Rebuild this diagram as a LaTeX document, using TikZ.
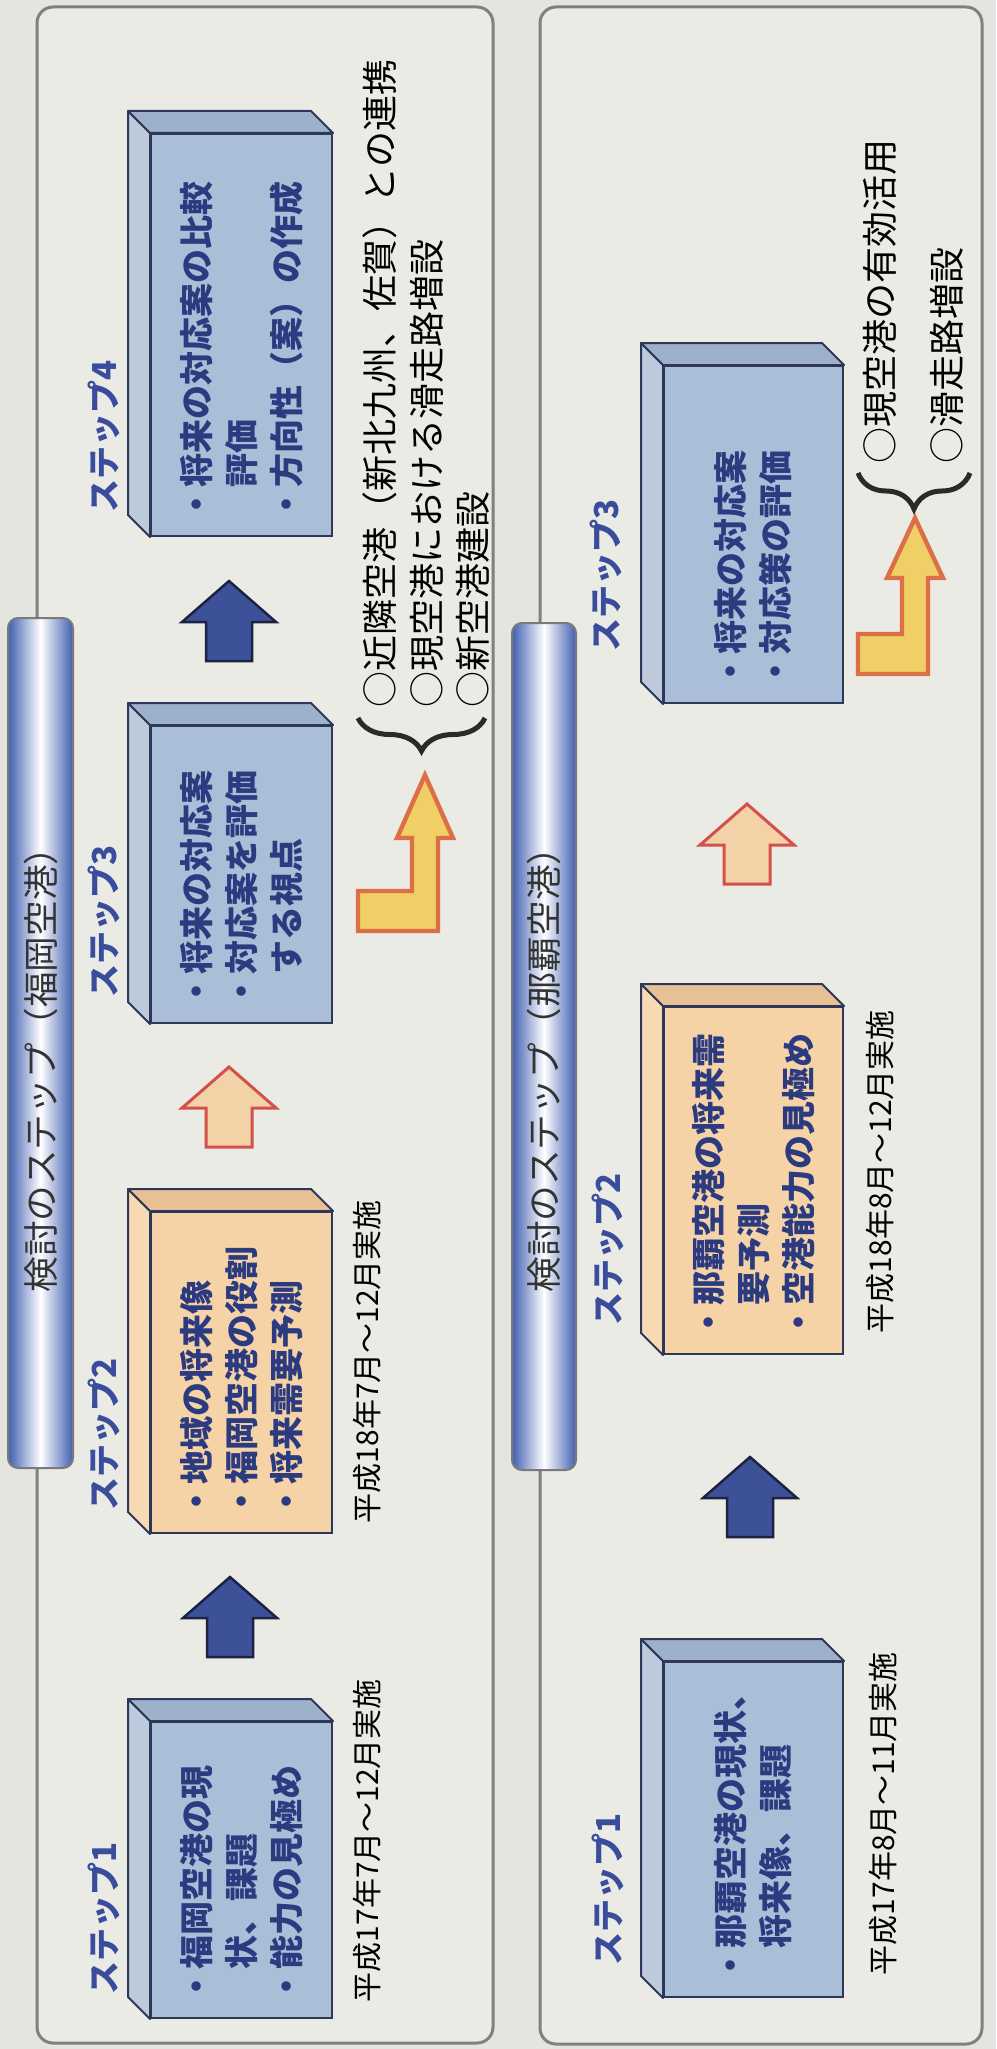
\documentclass[tikz,border=0pt]{standalone}
\usepackage{fontspec}
\setmainfont{Noto Sans CJK JP}
\usetikzlibrary{calc,decorations.pathreplacing}

\definecolor{bgcol}{HTML}{E4E5DF}
\definecolor{panelfill}{HTML}{EBEBE6}
\definecolor{panelline}{HTML}{808080}
\definecolor{barblue}{HTML}{3F5FB0}
\definecolor{barline}{HTML}{7A7A7A}
\definecolor{blfront}{HTML}{ABBED7}
\definecolor{blleft}{HTML}{BCCADC}
\definecolor{bltop}{HTML}{9EB1CB}
\definecolor{orfront}{HTML}{F5D3A7}
\definecolor{orleft}{HTML}{F7DAB3}
\definecolor{ortop}{HTML}{E8C095}
\definecolor{boxline}{HTML}{2E3659}
\definecolor{boxtext}{HTML}{2C3A80}
\definecolor{labelblue}{HTML}{3A4C9C}
\definecolor{arrowblue}{HTML}{3D5198}
\definecolor{arrowblueline}{HTML}{1C2342}
\definecolor{arrowpeach}{HTML}{F4D2A8}
\definecolor{arrowred}{HTML}{D4504A}
\definecolor{arrowyellow}{HTML}{F0CF66}
\definecolor{arrowyellowline}{HTML}{DC6E48}
\definecolor{bracecol}{HTML}{2A2A2A}

\tikzset{every picture/.style={line width=0.75pt}}
\tikzset{
  panel/.style={draw=panelline, fill=panelfill, line width=1.5pt, rounded corners=8pt},
  titlebar/.style={draw=barline, line width=1pt, rounded corners=5pt, left color=barblue, right color=barblue, middle color=white},
  titletext/.style={rotate=90, inner sep=0pt, text=black!80, font=\fontsize{17.8}{20}\selectfont},
  stepbox/.style={draw=boxline, line width=1pt, rotate=90, inner xsep=7.5pt, inner ysep=0pt, align=left, text=boxtext, font=\fontsize{17}{22.5}\selectfont\bfseries},
  bluebox/.style={stepbox, fill=blfront},
  orangebox/.style={stepbox, fill=orfront},
  blueleft/.style={draw=boxline, fill=blleft, line width=1pt, line join=round},
  bluetop/.style={draw=boxline, fill=bltop, line width=1pt, line join=round},
  orangeleft/.style={draw=boxline, fill=orleft, line width=1pt, line join=round},
  orangetop/.style={draw=boxline, fill=ortop, line width=1pt, line join=round},
  steplabel/.style={rotate=90, anchor=west, inner sep=0pt, text=labelblue, font=\fontsize{16.5}{20}\selectfont\bfseries},
  datelabel/.style={rotate=90, anchor=west, inner sep=0pt, font=\fontsize{15}{18}\selectfont},
  optiontext/.style={rotate=90, anchor=west, inner sep=0pt, align=left, font=\fontsize{18}{23.25}\selectfont},
  bluearrow/.style={draw=arrowblueline, fill=arrowblue, line width=1.25pt, line join=miter},
  peacharrow/.style={draw=arrowred, fill=arrowpeach, line width=1.5pt, line join=miter},
  yellowarrow/.style={draw=arrowyellowline, fill=arrowyellow, line width=2.2pt, line join=miter},
  curly/.style={draw=bracecol, line width=2.5pt, decorate, decoration={brace, amplitude=#1}}
}

\begin{document}
\begin{tikzpicture}[x=0.5pt,y=0.5pt,yscale=-1,xscale=1]
\useasboundingbox (0,0) rectangle (996,2049);

%Shape: Rectangle [background]
\fill[bgcol] (0,0) rectangle (996,2049);
%Shape: Rounded Rect [Fukuoka panel]
\draw[panel] (37,7) rectangle (493,2043);
%Shape: Rounded Rect [Naha panel]
\draw[panel] (540,7) rectangle (982,2044);
%Shape: Bar [Fukuoka title]
\draw[titlebar] (8,618) rectangle (73,1468);
%Shape: Bar [Naha title]
\draw[titlebar] (512,623) rectangle (576,1470);

% Text Node
\node[titletext] (fktitle) at (41,1061) {検討のステップ（福岡空港）};
% Text Node
\node[titletext] (nhtitle) at (544,1061) {検討のステップ（那覇空港）};

%Shape: Box [Fukuoka step 1]
\node[bluebox, minimum width=148pt, minimum height=90.5pt, text width=133pt] (fk1) at (241.5,1870) {・福岡空港の現\\　状、課題\\・能力の見極め};
\filldraw[blueleft] (fk1.north west) -- ($(fk1.north west)+(-22,-22)$) -- ($(fk1.north east)+(-22,-22)$) -- (fk1.north east) -- cycle;
\filldraw[bluetop] (fk1.north east) -- ($(fk1.north east)+(-22,-22)$) -- ($(fk1.south east)+(-22,-22)$) -- (fk1.south east) -- cycle;
%Shape: Box [Fukuoka step 2]
\node[orangebox, minimum width=160.5pt, minimum height=90.5pt, text width=145.5pt] (fk2) at (241.5,1372.5) {・地域の将来像\\・福岡空港の役割\\・将来需要予測};
\filldraw[orangeleft] (fk2.north west) -- ($(fk2.north west)+(-22,-22)$) -- ($(fk2.north east)+(-22,-22)$) -- (fk2.north east) -- cycle;
\filldraw[orangetop] (fk2.north east) -- ($(fk2.north east)+(-22,-22)$) -- ($(fk2.south east)+(-22,-22)$) -- (fk2.south east) -- cycle;
%Shape: Box [Fukuoka step 3]
\node[bluebox, minimum width=148.5pt, minimum height=90.5pt, text width=133.5pt] (fk3) at (241.5,874.5) {・将来の対応案\\・対応案を評価\\　する視点};
\filldraw[blueleft] (fk3.north west) -- ($(fk3.north west)+(-22,-22)$) -- ($(fk3.north east)+(-22,-22)$) -- (fk3.north east) -- cycle;
\filldraw[bluetop] (fk3.north east) -- ($(fk3.north east)+(-22,-22)$) -- ($(fk3.south east)+(-22,-22)$) -- (fk3.south east) -- cycle;
%Shape: Box [Fukuoka step 4]
\node[bluebox, minimum width=201pt, minimum height=90.5pt, text width=186pt] (fk4) at (241.5,335) {・将来の対応案の比較\\　評価\\・方向性（案）の作成};
\filldraw[blueleft] (fk4.north west) -- ($(fk4.north west)+(-22,-22)$) -- ($(fk4.north east)+(-22,-22)$) -- (fk4.north east) -- cycle;
\filldraw[bluetop] (fk4.north east) -- ($(fk4.north east)+(-22,-22)$) -- ($(fk4.south east)+(-22,-22)$) -- (fk4.south east) -- cycle;

%Shape: Box [Naha step 1]
\node[bluebox, minimum width=167.5pt, minimum height=89.5pt, text width=152.5pt] (nh1) at (753.5,1829.5) {・那覇空港の現状、\\　将来像、課題};
\filldraw[blueleft] (nh1.north west) -- ($(nh1.north west)+(-22,-22)$) -- ($(nh1.north east)+(-22,-22)$) -- (nh1.north east) -- cycle;
\filldraw[bluetop] (nh1.north east) -- ($(nh1.north east)+(-22,-22)$) -- ($(nh1.south east)+(-22,-22)$) -- (nh1.south east) -- cycle;
%Shape: Box [Naha step 2]
\node[orangebox, minimum width=173.5pt, minimum height=89.5pt, text width=158.5pt] (nh2) at (753.5,1180.5) {・那覇空港の将来需\\　要予測\\・空港能力の見極め};
\filldraw[orangeleft] (nh2.north west) -- ($(nh2.north west)+(-22,-22)$) -- ($(nh2.north east)+(-22,-22)$) -- (nh2.north east) -- cycle;
\filldraw[orangetop] (nh2.north east) -- ($(nh2.north east)+(-22,-22)$) -- ($(nh2.south east)+(-22,-22)$) -- (nh2.south east) -- cycle;
%Shape: Box [Naha step 3]
\node[bluebox, minimum width=168.5pt, minimum height=89.5pt, text width=153.5pt] (nh3) at (753.5,534.5) {・将来の対応案\\・対応策の評価};
\filldraw[blueleft] (nh3.north west) -- ($(nh3.north west)+(-22,-22)$) -- ($(nh3.north east)+(-22,-22)$) -- (nh3.north east) -- cycle;
\filldraw[bluetop] (nh3.north east) -- ($(nh3.north east)+(-22,-22)$) -- ($(nh3.south east)+(-22,-22)$) -- (nh3.south east) -- cycle;

% Text Node
\node[steplabel] (fk1lbl) at (104,1995) {ステップ1};
% Text Node
\node[steplabel] (fk2lbl) at (104,1511) {ステップ2};
% Text Node
\node[steplabel] (fk3lbl) at (104,998) {ステップ3};
% Text Node
\node[steplabel] (fk4lbl) at (104,513) {ステップ4};
% Text Node
\node[steplabel] (nh1lbl) at (608,1966) {ステップ1};
% Text Node
\node[steplabel] (nh2lbl) at (608,1326) {ステップ2};
% Text Node
\node[steplabel] (nh3lbl) at (606,652) {ステップ3};

% Text Node
\node[datelabel] (fk1date) at (367,2003) {平成17年7月～12月実施};
% Text Node
\node[datelabel] (fk2date) at (367,1524) {平成18年7月～12月実施};
% Text Node
\node[datelabel] (nh1date) at (883,1976) {平成17年8月～11月実施};
% Text Node
\node[datelabel] (nh2date) at (880,1334) {平成18年8月～12月実施};

%Shape: Up Arrow [Fukuoka 1 to 2]
\draw[bluearrow] (207,1657) -- (207,1618) -- (183,1618) -- (230,1577) -- (277,1618) -- (253,1618) -- (253,1657) -- cycle;
%Shape: Up Arrow [Fukuoka 2 to 3]
\draw[peacharrow] (206,1147) -- (206,1108) -- (182,1108) -- (229,1067) -- (276,1108) -- (252,1108) -- (252,1147) -- cycle;
%Shape: Up Arrow [Fukuoka 3 to 4]
\draw[bluearrow] (206,661) -- (206,622) -- (182,622) -- (229,581) -- (276,622) -- (252,622) -- (252,661) -- cycle;
%Shape: Up Arrow [Naha 1 to 2]
\draw[bluearrow] (727,1537) -- (727,1498) -- (703,1498) -- (750,1457) -- (797,1498) -- (773,1498) -- (773,1537) -- cycle;
%Shape: Up Arrow [Naha 2 to 3]
\draw[peacharrow] (724,884) -- (724,845) -- (700,845) -- (747,804) -- (794,845) -- (770,845) -- (770,884) -- cycle;

%Shape: Bent Arrow [Fukuoka options]
\draw[yellowarrow] (425,775) -- (453,838) -- (438,838) -- (438,931) -- (358,931) -- (358,891) -- (412,891) -- (412,838) -- (397,838) -- cycle;
%Shape: Bent Arrow [Naha options]
\draw[yellowarrow] (915,518) -- (943,578) -- (928,578) -- (928,674) -- (858,674) -- (858,634) -- (902,634) -- (902,578) -- (887,578) -- cycle;

%Shape: Brace [Fukuoka options]
\draw[curly=16.5pt] (485,718) -- (358,718);
%Shape: Brace [Naha options]
\draw[curly=18pt] (970,473) -- (858,473);

% Text Node
\node[optiontext] (fkopt) at (426.5,708) {○近隣空港（新北九州、佐賀）との連携\\○現空港における滑走路増設\\○新空港建設};
% Text Node
\node[optiontext, font=\fontsize{18}{33.5}\selectfont] (nhopt) at (913.5,464) {○現空港の有効活用\\○滑走路増設};

\end{tikzpicture}
\end{document}
